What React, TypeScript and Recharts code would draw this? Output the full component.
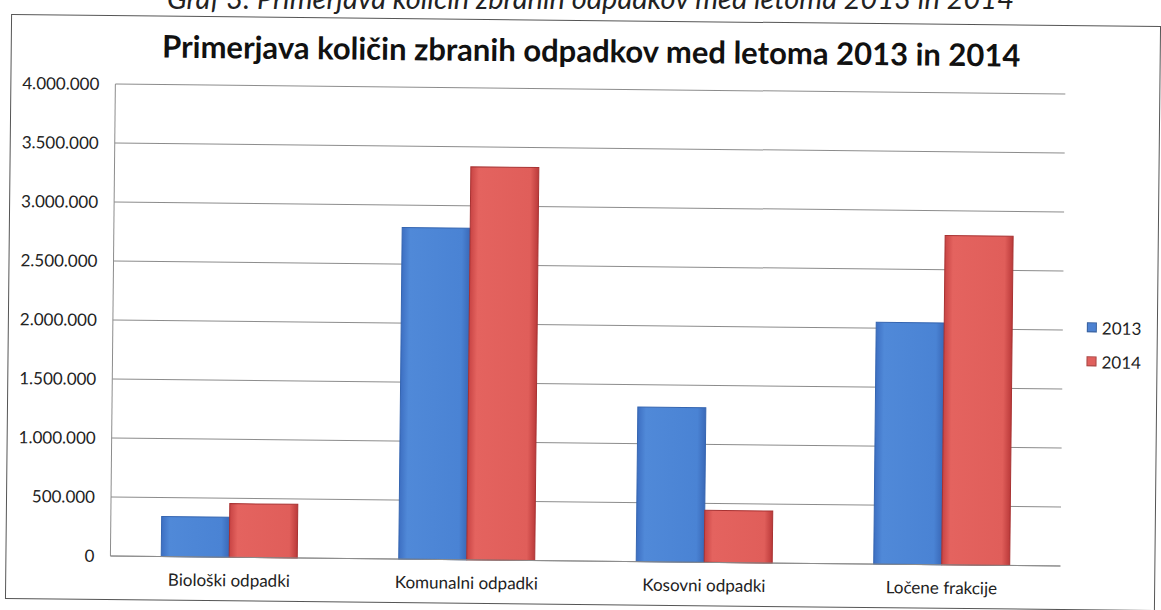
import { BarChart, Bar, XAxis, YAxis, CartesianGrid, Legend } from "recharts";

const CATEGORIES = ["Biološki odpadki", "Komunalni odpadki", "Kosovni odpadki", "Ločene frakcije"];
const SERIES_2013 = [340000, 2810000, 1310000, 2050000];
const SERIES_2014 = [455000, 3330000, 440000, 2790000];
const SERIES_NAMES = ["2013", "2014"];
const Y_TICKS = [0, 500000, 1000000, 1500000, 2000000, 2500000, 3000000, 3500000, 4000000];

const TITLE = "Primerjava količin zbranih odpadkov med letoma 2013 in 2014";
const CAPTION = "Graf 3: Primerjava količin zbranih odpadkov med letoma 2013 in 2014";

const data = CATEGORIES.map((name, i) => ({
  name,
  y2013: SERIES_2013[i],
  y2014: SERIES_2014[i],
}));

const COLORS = { y2013: "#4d82d2", y2014: "#e0605d" };
const FONT = "Lato, 'Open Sans', sans-serif";

// 4000000 -> "4.000.000"
const fmt = (v: number) => String(v).replace(/\B(?=(\d{3})+(?!\d))/g, ".");

function LegendBox() {
  const items = [
    { key: "y2013", label: SERIES_NAMES[0] },
    { key: "y2014", label: SERIES_NAMES[1] },
  ];
  return (
    <div style={{ fontFamily: FONT, fontSize: 17, color: "#222" }}>
      {items.map((it) => (
        <div key={it.key} style={{ display: "flex", alignItems: "center", height: 34 }}>
          <span
            style={{
              width: 10,
              height: 10,
              marginRight: 5,
              background: COLORS[it.key as keyof typeof COLORS],
              border: "1px solid rgba(0,0,0,0.25)",
              boxSizing: "border-box",
            }}
          />
          <span>{it.label}</span>
        </div>
      ))}
    </div>
  );
}

export default function App() {
  return (
    <div
      style={{
        position: "absolute",
        left: 0,
        top: 0,
        width: 1161,
        height: 610,
        overflow: "hidden",
        background: "#fff",
      }}
    >
      <div
        style={{
          position: "absolute",
          left: 10,
          top: -17,
          width: 1161,
          textAlign: "center",
          fontFamily: FONT,
          fontStyle: "italic",
          fontSize: 29,
          lineHeight: "29px",
          color: "#222",
          whiteSpace: "nowrap",
        }}
      >
        {CAPTION}
      </div>
      <div
        style={{
          position: "absolute",
          left: 8,
          top: 20,
          width: 1150,
          height: 585,
          boxSizing: "border-box",
          border: "1.5px solid #555",
          transform: "rotate(0.6deg)",
          transformOrigin: "center",
          background: "#fff",
        }}
      >
        <div
          style={{
            position: "absolute",
            left: 6,
            top: 10,
            width: 1147,
            textAlign: "center",
            fontFamily: FONT,
            fontWeight: 700,
            fontSize: 31,
            color: "#111",
          }}
        >
          {TITLE}
        </div>
        <BarChart
          width={1147}
          height={582}
          data={data}
          margin={{ top: 68, right: 93, bottom: 2, left: 0 }}
          barCategoryGap="21.4%"
          barGap={0}
        >
          <defs>
            <linearGradient id="g2013" x1="0" y1="0" x2="1" y2="0">
              <stop offset="0%" stopColor="#3d6fc2" />
              <stop offset="12%" stopColor="#5089d8" />
              <stop offset="88%" stopColor="#4a83d4" />
              <stop offset="100%" stopColor="#3a69b8" />
            </linearGradient>
            <linearGradient id="g2014" x1="0" y1="0" x2="1" y2="0">
              <stop offset="0%" stopColor="#c84444" />
              <stop offset="12%" stopColor="#e4635f" />
              <stop offset="88%" stopColor="#e05e5a" />
              <stop offset="100%" stopColor="#bb3a3a" />
            </linearGradient>
          </defs>
          <CartesianGrid vertical={false} stroke="#8c8c8c" strokeWidth={1} />
          <XAxis
            dataKey="name"
            axisLine={{ stroke: "#8c8c8c" }}
            tickLine={false}
            tickSize={0}
            tickMargin={17}
            height={40}
            interval={0}
            tick={{ fill: "#222", fontSize: 17, fontFamily: FONT }}
          />
          <YAxis
            width={104}
            domain={[0, 4000000]}
            ticks={Y_TICKS}
            tickFormatter={fmt}
            axisLine={{ stroke: "#8c8c8c" }}
            tickLine={false}
            tickSize={0}
            tickMargin={16}
            tick={{ fill: "#222", fontSize: 17, fontFamily: FONT }}
          />
          <Legend
            layout="horizontal"
            verticalAlign="middle"
            align="center"
            content={() => <LegendBox />}
            wrapperStyle={{ position: "absolute", left: 1078, top: 284, width: 70, height: 68 }}
          />
          <Bar dataKey="y2013" name={SERIES_NAMES[0]} fill="url(#g2013)" stroke="#3565b0" strokeWidth={1} isAnimationActive={false} />
          <Bar dataKey="y2014" name={SERIES_NAMES[1]} fill="url(#g2014)" stroke="#a83232" strokeWidth={1} isAnimationActive={false} />
        </BarChart>
      </div>
    </div>
  );
}
